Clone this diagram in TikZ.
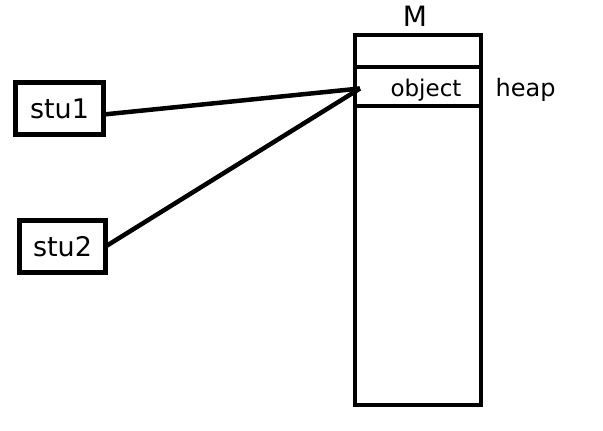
\documentclass[tikz,border=0pt]{standalone}
\usepackage{fontspec}
\setmainfont{DejaVu Sans}
\begin{document}
\begin{tikzpicture}[x=1pt, y=-1pt, line width=4.5pt, font=\fontsize{24}{24}\selectfont,
  refbox/.style={draw, rectangle, inner sep=0pt, outer sep=0pt, line width=4.5pt}]
\useasboundingbox (0,0) rectangle (603,431);
\draw[line width=4.5pt] (355,35) rectangle (481,405);
\node[refbox, minimum width=126pt, minimum height=39pt, anchor=north west] (obj) at (355,67) {};
\node[font=\fontsize{23}{23}\selectfont] (objtext) at (426,90) {object};
\node[font=\fontsize{24}{24}\selectfont, anchor=west] (heaptext) at (490,90) {heap};
\node[font=\fontsize{28}{28}\selectfont] (mtext) at (415,16) {M};
\node[refbox, minimum width=88pt, minimum height=52pt, font=\fontsize{27}{27}\selectfont] (stu1) at (59.5,108.5) {stu1};
\node[refbox, minimum width=86pt, minimum height=52pt, font=\fontsize{27}{27}\selectfont] (stu2) at (62.5,246.5) {stu2};
\coordinate (tip) at ([xshift=5pt,yshift=-2pt]obj.west);
\draw ([yshift=-6pt]stu1.east) -- (tip);
\draw (stu2.east) -- (tip);
\end{tikzpicture}
\end{document}
